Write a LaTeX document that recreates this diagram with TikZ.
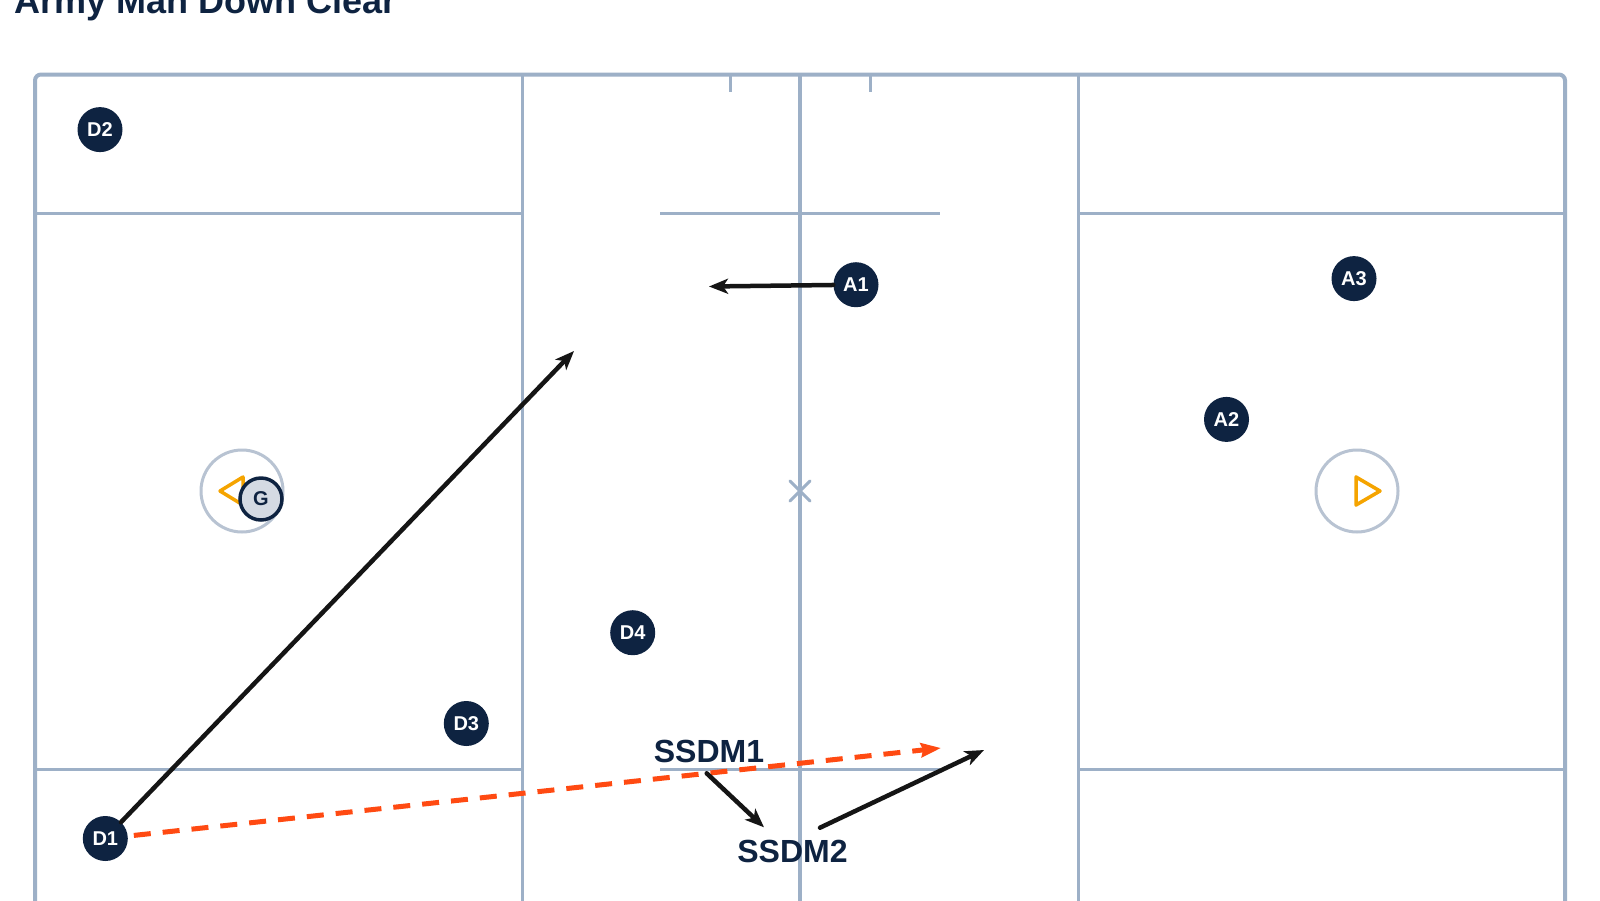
\documentclass[tikz,border=0pt]{standalone}
\usepackage{fontspec}
\setmainfont{Liberation Sans}
\usetikzlibrary{arrows.meta}
\definecolor{navy}{HTML}{0E2341}
\definecolor{fieldline}{HTML}{9DB0C7}
\definecolor{goalline}{HTML}{B8C3D2}
\definecolor{orng}{HTML}{FF4A12}
\definecolor{gold}{HTML}{F5A400}
\definecolor{gfill}{HTML}{D4DAE3}
\definecolor{arrowblack}{HTML}{151515}
\begin{document}
\begin{tikzpicture}[x=1pt,y=-1pt,
  player/.style={circle,fill=navy,text=white,font=\bfseries\fontsize{20}{20}\selectfont,minimum size=45pt,inner sep=0pt},
  fline/.style={draw=fieldline,line width=3pt},
  goalring/.style={circle,draw=goalline,line width=3pt,fill=white,minimum size=82pt,inner sep=0pt},
  goaltri/.style={draw=gold,line width=3.5pt,line join=round,line cap=round},
  run/.style={draw=arrowblack,line width=4.5pt,line cap=round,-{Stealth[length=19pt,width=15pt,inset=5pt]}},
  pass/.style={draw=orng,line width=5pt,dash pattern=on 17pt off 12pt,-{Stealth[length=20pt,width=14pt,inset=2pt]}},
  lbl/.style={text=navy,font=\bfseries\fontsize{32}{32}\selectfont,inner sep=0pt},
]
\useasboundingbox (0,0) rectangle (1600,900);
\clip (0,0) rectangle (1600,900);
\fill[white] (0,0) rectangle (1600,900);

% title
\node[anchor=base west,text=navy,font=\bfseries\fontsize{36}{36}\selectfont,inner sep=0pt] (title) at (14,13) {Army Man Down Clear};

% field
\draw[fieldline,line width=4pt,rounded corners=6pt] (35,74.5) rectangle (1565,908);
\draw[fline] (522,74.5) -- (522,905);
\draw[fline] (1078,74.5) -- (1078,905);
\draw[fline,line width=3.5pt] (800,74.5) -- (800,905);
\draw[fline] (35,213) -- (522,213);
\draw[fline] (660,213) -- (940,213);
\draw[fline] (1078,213) -- (1565,213);
\draw[fline] (35,769) -- (522,769);
\draw[fline] (660,769) -- (940,769);
\draw[fline] (1078,769) -- (1565,769);
\draw[fline] (730,74.5) -- (730,92);
\draw[fline] (870,74.5) -- (870,92);
\draw[fline,line cap=round] (790,481) -- (810,501);
\draw[fline,line cap=round] (790,501) -- (810,481);

% goals
\node[goalring] (goalL) at (242,491) {};
\node[goalring] (goalR) at (1357,491) {};
\draw[goaltri] (243,477) -- (220,491) -- (243,505) -- cycle;
\draw[goaltri] (1356,477) -- (1380,491) -- (1356,505) -- cycle;
\node[circle,fill=gfill,draw=navy,line width=3.5pt,minimum size=42pt,inner sep=0pt,text=navy,font=\bfseries\fontsize{20}{20}\selectfont] (G) at (261,499) {G};

% players
\node[player] (D2) at (100,129.6) {D2};
\node[player] (A1) at (856,284.7) {A1};
\node[player] (A3) at (1354,278.6) {A3};
\node[player] (A2) at (1226.5,419.4) {A2};
\node[player] (D4) at (632.7,632.7) {D4};
\node[player] (D3) at (466.3,723.5) {D3};
\node[player] (D1) at (105.3,838.5) {D1};

% labels
\node[lbl] (SSDM1) at (709,751.3) {SSDM1};
\node[lbl] (SSDM2) at (792.5,851) {SSDM2};

% arrows
\coordinate (a1end) at (709,286.5);
\coordinate (d1end) at (574,351);
\coordinate (passend) at (941,748);
\coordinate (s1a) at (706.7,773.3);
\coordinate (s1b) at (764,827.3);
\coordinate (s2a) at (820,827.7);
\coordinate (s2b) at (984,750);
\draw[run] (A1) -- (a1end);
\draw[run] (D1) -- (d1end);
\draw[pass,shorten <=6pt] (D1) -- (passend);
\draw[run] (s1a) -- (s1b);
\draw[run] (s2a) -- (s2b);
\end{tikzpicture}
\end{document}
